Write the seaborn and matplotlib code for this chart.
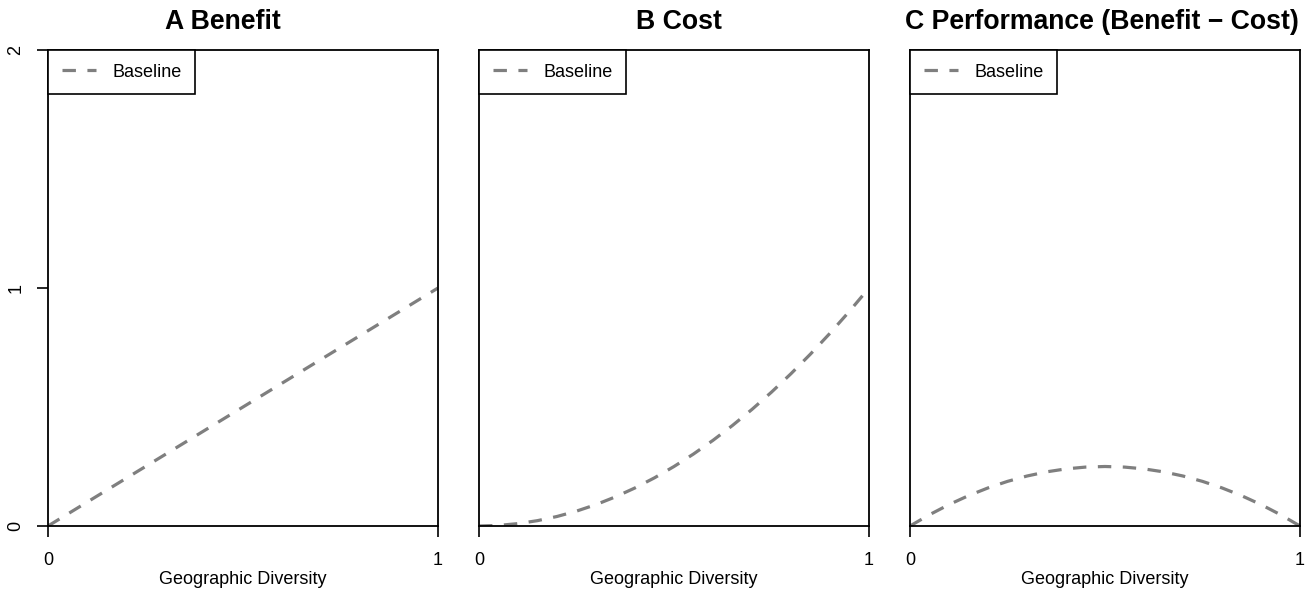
import pandas as pd
import matplotlib
matplotlib.use("Agg")
import matplotlib.pyplot as plt
import seaborn as sns

# values
diversity = [0.0, 0.05, 0.1, 0.15, 0.2, 0.25, 0.3, 0.35, 0.4, 0.45, 0.5,
             0.55, 0.6, 0.65, 0.7, 0.75, 0.8, 0.85, 0.9, 0.95, 1.0]
benefit = [0.0, 0.05, 0.1, 0.15, 0.2, 0.25, 0.3, 0.35, 0.4, 0.45, 0.5,
           0.55, 0.6, 0.65, 0.7, 0.75, 0.8, 0.85, 0.9, 0.95, 1.0]
cost = [0.0, 0.0025, 0.01, 0.0225, 0.04, 0.0625, 0.09, 0.1225, 0.16, 0.2025, 0.25,
        0.3025, 0.36, 0.4225, 0.49, 0.5625, 0.64, 0.7225, 0.81, 0.9025, 1.0]
performance = [0.0, 0.0475, 0.09, 0.1275, 0.16, 0.1875, 0.21, 0.2275, 0.24, 0.2475, 0.25,
               0.2475, 0.24, 0.2275, 0.21, 0.1875, 0.16, 0.1275, 0.09, 0.0475, 0.0]

titles = ["A Benefit", "B Cost", "C Performance (Benefit \u2212 Cost)"]
x_ticks = [0, 1]
y_ticks = [0, 1, 2]
legend_label = "Baseline"
x_label = "Geographic Diversity"

sns.set_style("white")
plt.rcParams["font.family"] = ["Liberation Sans", "DejaVu Sans"]
plt.rcParams["text.color"] = "black"
plt.rcParams["xtick.color"] = "black"
plt.rcParams["ytick.color"] = "black"
plt.rcParams["axes.labelcolor"] = "black"

df = pd.DataFrame({"x": diversity, "A": benefit, "B": cost, "C": performance})

fig = plt.figure(figsize=(13.11, 5.94), dpi=100)
lefts = [48 / 1311, 479 / 1311, 910 / 1311]
w = 390 / 1311
bottom = 1 - 526 / 594
h = 476 / 594
fs = 13
# title centres as placed in the reference (fraction of axes width)
title_x = [0.449, 0.512, 0.491]

for i, col in enumerate(["A", "B", "C"]):
    ax = fig.add_axes([lefts[i], bottom, w, h])
    sns.lineplot(data=df, x="x", y=col, ax=ax, color="#7f7f7f", linewidth=2.3,
                 linestyle=(0, (4.2, 3.6)), label=legend_label)
    ax.set_xlim(0, 1)
    ax.set_ylim(0, 2)
    for s in ax.spines.values():
        s.set_visible(True)
        s.set_color("black")
        s.set_linewidth(1.3)
    ax.set_xticks(x_ticks)
    ax.set_xticklabels([str(t) for t in x_ticks], fontsize=fs)
    ax.tick_params(axis="x", direction="out", length=8, width=1.2, pad=11, bottom=True)
    if i == 0:
        ax.set_yticks(y_ticks)
        ax.set_yticklabels([str(t) for t in y_ticks], fontsize=fs, rotation=90, va="center")
        ax.tick_params(axis="y", direction="out", length=8, width=1.2, pad=9, left=True)
    else:
        ax.set_yticks([])
    ax.set_ylabel("")
    ax.set_xlabel(x_label, fontsize=fs, labelpad=1.5)
    ax.set_title(titles[i], fontsize=19.2, fontweight="bold", pad=15, x=title_x[i])
    leg = ax.legend(loc="upper left", borderaxespad=0, fontsize=fs, handlelength=1.9,
                    fancybox=False, framealpha=1, borderpad=0.75, handletextpad=0.9)
    leg.get_frame().set_edgecolor("black")
    leg.get_frame().set_linewidth(1.2)

fig.savefig("out.png", dpi=100)
